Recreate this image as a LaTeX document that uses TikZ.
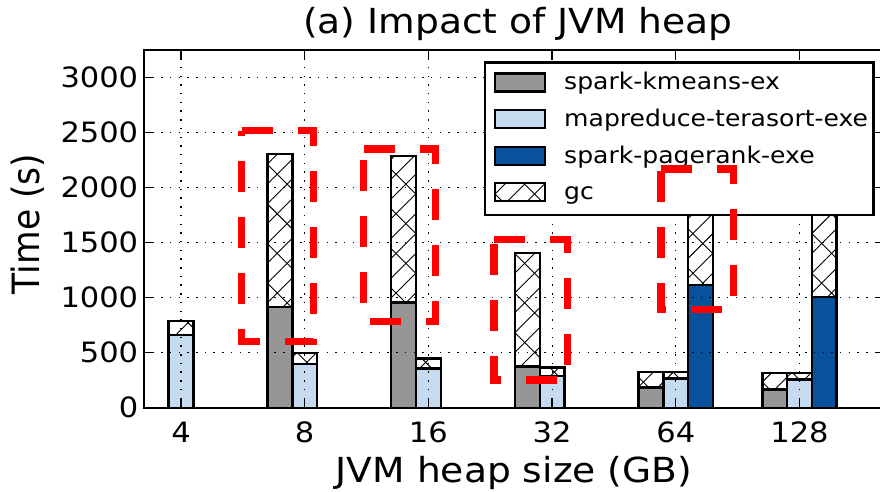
\documentclass[tikz,border=0pt]{standalone}
\usepackage{fontspec}
\setmainfont{DejaVu Sans}
\usetikzlibrary{patterns.meta}

\definecolor{kmeansgray}{RGB}{150,150,150}
\definecolor{terablue}{RGB}{198,219,239}
\definecolor{rankblue}{RGB}{8,81,156}

% white box with the two gc hatchings
\newcommand{\gcrect}[2]{%
  \fill [white] #1 rectangle #2;
  \fill [pattern={Lines[angle=45,distance=14pt,line width=0.9pt]}] #1 rectangle #2;
  \fill [pattern={Lines[angle=-45,distance=28pt,line width=0.9pt]}] #1 rectangle #2;
  \draw [bar] #1 rectangle #2;}

\begin{document}
\begin{tikzpicture}[x=1pt, y=1pt,
  txt/.style = {inner sep=0, xscale=1.09, transform shape},
  ticklab/.style = {txt, font=\fontsize{28}{28}\selectfont},
  legtext/.style = {txt, font=\fontsize{23}{23}\selectfont},
  bigtext/.style = {txt, font=\fontsize{34.5}{34.5}\selectfont},
  bar/.style = {draw=black, line width=2.4pt},
  gridline/.style = {black, line width=1.2pt, dash pattern=on 1.5pt off 7.2pt},
  redbox/.style = {red, line width=7.5pt, dash pattern=on 31pt off 25pt}]
\useasboundingbox (0,0) rectangle (880,491);

\begin{scope}[shift={(181,83.3)}, x=123.7pt, y=0.11pt]
% stacked bars: run time, then gc on top
\foreach \x/\lo/\hi/\col in {0/661/788/terablue,
    0.8/913/2309/kmeansgray, 1/397/500/terablue,
    1.8/955/2288/kmeansgray, 2/358/449/terablue,
    2.8/373/1404/kmeansgray, 3/288/364/terablue,
    3.8/182/327/kmeansgray, 4/267/327/terablue, 4.2/1115/2200/rankblue,
    4.8/167/318/kmeansgray, 5/258/313/terablue, 5.2/1004/2200/rankblue} {
  \draw [bar, fill=\col] (\x-0.1,0) rectangle (\x+0.1,\lo);
  \gcrect{(\x-0.1,\lo)}{(\x+0.1,\hi)}
}

\foreach \i in {0,...,5}
  \draw [gridline] (\i,0) -- (\i,3250);
\foreach \v in {500,1000,...,3000}
  \draw [gridline] (-0.3,\v) -- (5.7,\v);

\draw [line width=2.4pt] (-0.3,0) rectangle (5.7,3250);
\foreach \i/\lab in {0/4,1/8,2/16,3/32,4/64,5/128} {
  \draw [line width=1.3pt] (\i,0) -- ++(0,10pt);
  \draw [line width=1.3pt] (\i,3250) -- ++(0,-10pt);
  \node [ticklab, anchor=north] (xt\i) at ([yshift=-14.3pt]\i,0) {\lab};
}
\foreach \v in {0,500,...,3000} {
  \draw [line width=1.3pt] (-0.3,\v) -- ++(10pt,0);
  \draw [line width=1.3pt] (5.7,\v) -- ++(-10pt,0);
  \node [ticklab, anchor=east] (yt\v) at ([xshift=-5.5pt]-0.3,\v) {\v};
}
\end{scope}

% legend
\draw [line width=2.4pt, fill=white] (485,276) rectangle (873.3,428.3);
\foreach \yc/\col/\name/\lab in {408.5/kmeansgray/km/spark-kmeans-ex,
    372/terablue/mr/mapreduce-terasort-exe, 335.3/rankblue/pr/spark-pagerank-exe} {
  \draw [bar, fill=\col] (495,\yc-9) rectangle (545,\yc+9);
  \node [legtext, anchor=base west] (\name) at (564,\yc-7.5) {\lab};
}
\gcrect{(495,290)}{(545,308)}
\node [legtext, anchor=base west] (gc) at (564,291.5) {gc};

% highlighted groups
\foreach \l/\r/\t/\b in {241.7/313.3/360.3/149.3, 363.5/435.7/342/169.3,
    494/567.3/251.7/111, 661/733.3/322/181.7}
  \draw [redbox] (\l,\t) -- (\r,\t) -- (\r,\b) -- (\l,\b) -- cycle;

\node [bigtext, anchor=base] (title) at (518,457.2) {(a) Impact of JVM heap};
\node [bigtext, anchor=base] (xlabel) at (514,9) {JVM heap size (GB)};
\node [bigtext, rotate=90] (ylabel) at (28,267) {Time (s)};
\end{tikzpicture}
\end{document}
